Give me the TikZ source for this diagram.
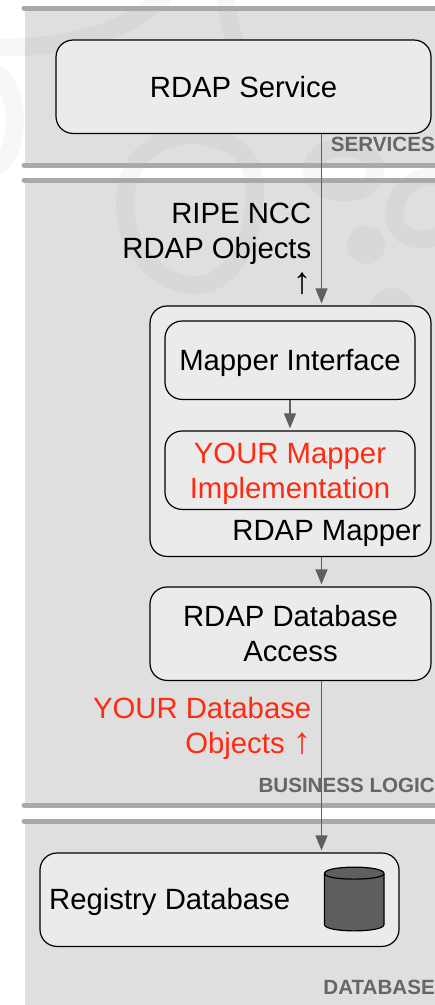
\documentclass[tikz,border=0pt]{standalone}
\usepackage{fontspec}
\setmainfont{Liberation Sans}
\usetikzlibrary{arrows.meta}
\definecolor{band}{HTML}{DFDFDF}
\definecolor{rule}{HTML}{A9A9A9}
\definecolor{boxfill}{HTML}{EBEBEB}
\definecolor{conn}{HTML}{5F5F5F}
\definecolor{lay}{HTML}{666666}
\definecolor{redtxt}{HTML}{FF2A12}
\newcommand{\bigfont}{\fontsize{29.3}{35}\selectfont}
\newcommand{\uparr}{{\fontsize{37}{35}\selectfont ↑}}
\newcommand{\lowr}[1]{\raisebox{-3pt}[21pt][6pt]{#1}}
\tikzset{
 x=1pt,y=-1pt,
 box/.style={draw=black,line width=1.2pt,fill=boxfill,rounded corners=17pt,anchor=north west,inner sep=0pt,align=center,font=\bigfont},
 txt/.style={inner sep=0pt,font=\bigfont,align=right},
 layer/.style={inner sep=0pt,anchor=east,font=\fontsize{20.6}{24}\selectfont\bfseries,text=lay},
 conn/.style={draw=conn,line width=1.4pt,-{Triangle[length=15pt,width=12pt]},shorten >=2pt},
 rulebar/.style={draw=rule,line width=5pt,line cap=round},
 swirl/.style={draw=black,draw opacity=0.03,line width=18pt,fill=none},
}
\begin{document}
\begin{tikzpicture}
\useasboundingbox (0,0) rectangle (435,1005);
\fill[white] (0,0) rectangle (435,1005);
% bands
\fill[band] (25,8) rectangle (435,165);
\fill[band] (25,180) rectangle (435,805);
\fill[band] (25,821) rectangle (435,1005);
% watermark
\begin{scope}
\clip (0,0) rectangle (435,1005);
\draw[swirl] (-10,47) .. controls (70,50) and (130,30) .. (165,-5);
\draw[swirl] (-10,70) .. controls (25,85) and (22,160) .. (-10,170);
\draw[swirl] (225,-5) .. controls (228,20) and (232,35) .. (240,55);
\draw[swirl] (195,135) .. controls (165,135) and (125,150) .. (125,205) .. controls (125,255) and (165,285) .. (195,285) .. controls (235,285) and (255,235) .. (255,190) .. controls (255,165) and (245,140) .. (195,135);
\draw[swirl] (312,170) .. controls (312,140) and (375,140) .. (375,170) .. controls (375,200) and (312,200) .. (312,170);
\draw[swirl] (445,175) .. controls (400,175) and (392,205) .. (395,220) .. controls (400,245) and (430,240) .. (445,235);
\fill[black,fill opacity=0.03] (366,245) circle (19);
\fill[black,fill opacity=0.03] (392,310) circle (22);
\end{scope}
% rules
\foreach \yy in {8,165,180,805,821}{\draw[rulebar] (24,\yy) -- (440,\yy);}
% boxes
\node[box,minimum width=375pt,minimum height=93.4pt] (svc) at (55.4,39.4) {RDAP Service};
\node[box,minimum width=281pt,minimum height=250.4pt] (mapper) at (149.4,305.4) {};
\node[box,minimum width=250pt,minimum height=78.4pt] (iface) at (164.4,320.4) {\lowr{Mapper Interface}};
\node[box,minimum width=250pt,minimum height=78.4pt,text=redtxt] (impl) at (164.4,430.4) {\lowr{YOUR Mapper}\\\lowr{Implementation}};
\node[box,minimum width=281pt,minimum height=93.4pt] (dba) at (149.4,586.4) {RDAP Database\\Access};
\node[box,minimum width=359pt,minimum height=93.4pt] (reg) at (39.4,852.4) {};
% labels
\node[txt,anchor=east] (mlabel) at (421.5,533) {RDAP Mapper};
\node[txt,anchor=west] (rlabel) at (49,902) {Registry Database};
\node[txt,anchor=north east] (ripe) at (311.5,203) {RIPE NCC\\RDAP Objects\\\uparr\hspace{2pt}};
\node[txt,anchor=north east,text=redtxt] (your) at (311.5,697) {YOUR Database\\Objects \uparr\hspace{2pt}};
% layer names
\node[layer] (l1) at (435,144) {SERVICES};
\node[layer] (l2) at (435,785) {BUSINESS LOGIC};
\node[layer] (l3) at (435,987) {DATABASE};
% connectors
\coordinate (ax) at (321.5,0);
\coordinate (bx) at (290,0);
\draw[conn] (svc.south -| ax) -- (mapper.north -| ax);
\draw[conn] (iface.south -| bx) -- (impl.north -| bx);
\draw[conn] (mapper.south -| ax) -- (dba.north -| ax);
\draw[conn] (dba.south -| ax) -- (reg.north -| ax);
% cylinder
\draw[line width=1.2pt,fill=conn] (324.5,873.5) -- (324.5,924.5) .. controls (324.5,933) and (384,933) .. (384,924.5) -- (384,873.5) .. controls (384,865) and (324.5,865) .. (324.5,873.5) -- cycle;
\draw[line width=1.2pt] (324.5,873.5) .. controls (324.5,881) and (384,881) .. (384,873.5);
\end{tikzpicture}
\end{document}
